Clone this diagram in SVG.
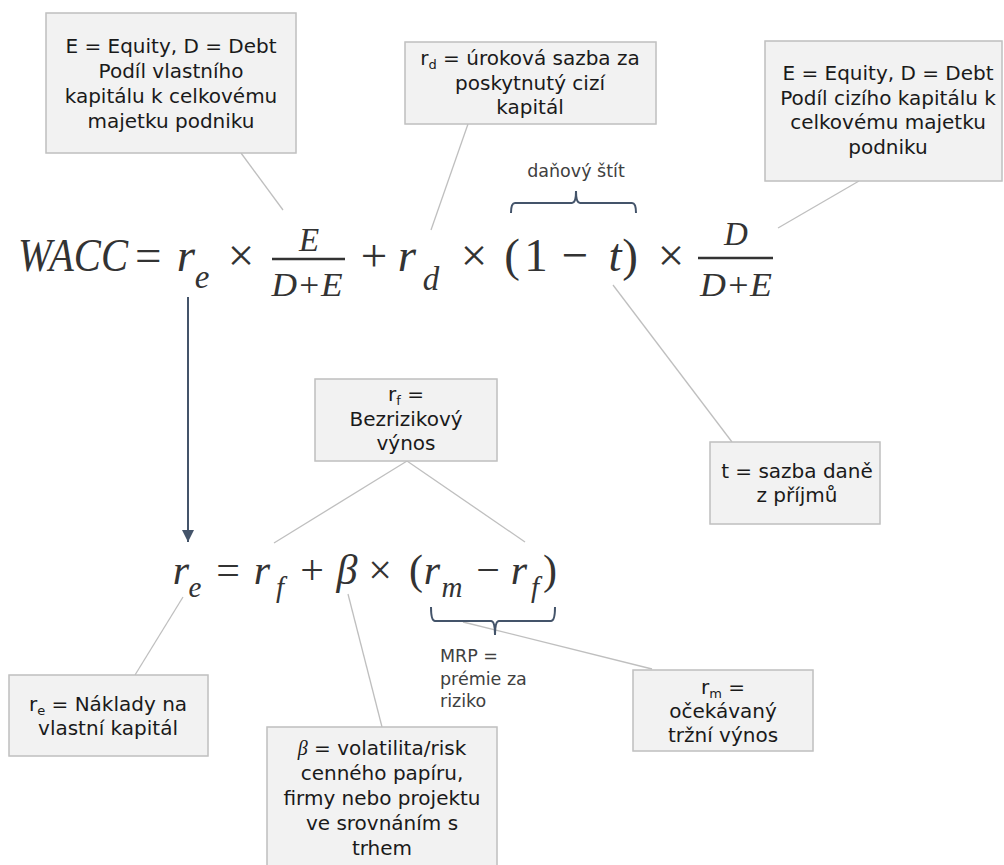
<svg xmlns="http://www.w3.org/2000/svg" width="1004" height="865" viewBox="0 0 1004 865">
  <style>
    .box { fill: #F2F2F2; stroke: #BFBFBF; stroke-width: 1.5; }
    .lbl { font-family: "DejaVu Sans", Verdana, sans-serif; font-size: 20px; fill: #1a1a1a; text-anchor: middle; }
    .sub { font-size: 13px; }
    .note { font-family: "DejaVu Sans", Verdana, sans-serif; font-size: 17.5px; fill: #404040; }
    .m { font-family: "Liberation Serif", "DejaVu Serif", serif; fill: #333333; text-anchor: middle; }
    .mi { font-style: italic; }
    .f1 { font-size: 47px; }
    .f1s { font-size: 33px; }
    .f2 { font-size: 42px; }
    .f2s { font-size: 29px; }
    .bar { stroke: #333333; stroke-width: 2.4; }
    .link { stroke: #BFBFBF; stroke-width: 1.3; fill: none; }
    .brace { stroke: #44546A; stroke-width: 2; fill: none; }
  </style>
  <defs>
    <marker id="arrowhead" viewBox="0 0 10 10" refX="10" refY="5" markerWidth="6" markerHeight="6" markerUnits="strokeWidth" orient="auto">
      <path d="M0,0 L10,5 L0,10 Z" fill="#44546A"/>
    </marker>
  </defs>
  <rect width="1004" height="865" fill="#ffffff"/>

  <!-- connectors -->
  <g id="connectors">
    <line class="link" x1="241" y1="153" x2="283" y2="210"/>
    <line class="link" x1="468" y1="124" x2="431" y2="230"/>
    <line class="link" x1="859" y1="181" x2="778" y2="228"/>
    <line class="link" x1="613" y1="285" x2="732" y2="442"/>
    <line class="link" x1="407" y1="461" x2="274" y2="543"/>
    <line class="link" x1="407" y1="461" x2="525" y2="542"/>
    <line class="link" x1="183" y1="597" x2="135" y2="675"/>
    <line class="link" x1="348" y1="594" x2="382" y2="727"/>
    <line class="link" x1="463" y1="622" x2="652" y2="669"/>
    <line x1="188" y1="297" x2="188" y2="542" stroke="#44546A" stroke-width="2" marker-end="url(#arrowhead)"/>
  </g>

  <!-- WACC formula -->
  <g id="wacc-formula">
    <text class="m f1" x="18" y="271" style="text-anchor:start"><tspan font-style="italic" textLength="110" lengthAdjust="spacingAndGlyphs">WACC</tspan><tspan x="135">=</tspan></text>
    <text class="m mi f1" x="186" y="271">r</text>
    <text class="m mi f1s" x="202" y="288">e</text>
    <text class="m f1" x="241" y="271">×</text>
    <text class="m mi f1s" x="309" y="251">E</text>
    <line class="bar" x1="272" y1="259" x2="345" y2="259"/>
    <text class="m mi f1s" x="307" y="296" textLength="71" lengthAdjust="spacingAndGlyphs">D+E</text>
    <text class="m f1" x="374" y="271">+</text>
    <text class="m mi f1" x="407" y="271">r</text>
    <text class="m mi f1s" x="431" y="290">d</text>
    <text class="m f1" x="474" y="271">×</text>
    <text class="m f1" x="512" y="271">(</text>
    <text class="m f1" x="536" y="271">1</text>
    <text class="m f1" x="575" y="271">−</text>
    <text class="m mi f1" x="615" y="271">t</text>
    <text class="m f1" x="630" y="271">)</text>
    <text class="m f1" x="671" y="271">×</text>
    <text class="m mi f1s" x="736" y="245">D</text>
    <line class="bar" x1="698" y1="258" x2="773" y2="258"/>
    <text class="m mi f1s" x="736" y="296" textLength="72" lengthAdjust="spacingAndGlyphs">D+E</text>
    <path class="brace" d="M511,213 Q511,203 515,203 L572,203 Q576,203 576,191 Q576,203 580,203 L632,203 Q636,203 636,213"/>
    <text class="note" x="576" y="177" text-anchor="middle">daňový štít</text>
  </g>

  <!-- cost of equity formula -->
  <g id="capm-formula">
    <text class="m mi f2" x="181" y="584">r</text>
    <text class="m mi f2s" x="195" y="597">e</text>
    <text class="m f2" x="228" y="584">=</text>
    <text class="m mi f2" x="262" y="584">r</text>
    <text class="m mi f2s" x="280" y="597">f</text>
    <text class="m f2" x="312" y="584">+</text>
    <text class="m mi f2" x="347" y="584">β</text>
    <text class="m f2" x="380" y="584">×</text>
    <text class="m f2" x="416" y="584">(</text>
    <text class="m mi f2" x="432" y="584">r</text>
    <text class="m mi f2s" x="452" y="597">m</text>
    <text class="m f2" x="488" y="584">−</text>
    <text class="m mi f2" x="519" y="584">r</text>
    <text class="m mi f2s" x="535" y="597">f</text>
    <text class="m f2" x="550" y="584">)</text>
    <path class="brace" d="M431,607 Q431,621 435,621 L491,621 Q495,621 495,635 Q495,621 499,621 L551,621 Q555,621 555,607"/>
    <text class="note" x="440" y="662">MRP =</text>
    <text class="note" x="440" y="685">prémie za</text>
    <text class="note" x="440" y="707">riziko</text>
  </g>

  <!-- annotation boxes -->
  <g id="equity-share">
    <rect class="box" x="46" y="13" width="250" height="140"/>
    <text class="lbl" x="171" y="53">E = Equity, D = Debt</text>
    <text class="lbl" x="171" y="78">Podíl vlastního</text>
    <text class="lbl" x="171" y="103">kapitálu k celkovému</text>
    <text class="lbl" x="171" y="128">majetku podniku</text>
  </g>

  <g id="debt-rate">
    <rect class="box" x="405" y="42" width="251" height="82"/>
    <text class="lbl" x="530" y="65">r<tspan class="sub" dy="4">d</tspan><tspan dy="-4"> = úroková sazba za</tspan></text>
    <text class="lbl" x="530" y="90">poskytnutý cizí</text>
    <text class="lbl" x="530" y="114">kapitál</text>
  </g>

  <g id="debt-share">
    <rect class="box" x="765" y="41" width="237" height="140"/>
    <text class="lbl" x="888" y="80">E = Equity, D = Debt</text>
    <text class="lbl" x="888" y="105">Podíl cizího kapitálu k</text>
    <text class="lbl" x="888" y="129">celkovému majetku</text>
    <text class="lbl" x="888" y="154">podniku</text>
  </g>

  <g id="tax-rate">
    <rect class="box" x="710" y="442" width="170" height="82"/>
    <text class="lbl" x="797" y="478">t = sazba daně</text>
    <text class="lbl" x="797" y="502">z příjmů</text>
  </g>

  <g id="risk-free">
    <rect class="box" x="315" y="379" width="182" height="82"/>
    <text class="lbl" x="406" y="401">r<tspan class="sub" dy="4">f</tspan><tspan dy="-4"> =</tspan></text>
    <text class="lbl" x="406" y="426">Bezrizikový</text>
    <text class="lbl" x="406" y="450">výnos</text>
  </g>

  <g id="cost-of-equity">
    <rect class="box" x="9" y="675" width="199" height="81"/>
    <text class="lbl" x="108" y="711">r<tspan class="sub" dy="4">e</tspan><tspan dy="-4"> = Náklady na</tspan></text>
    <text class="lbl" x="108" y="735">vlastní kapitál</text>
  </g>

  <g id="beta">
    <rect class="box" x="267" y="727" width="230" height="145"/>
    <text class="lbl" x="382" y="755"><tspan font-family="Liberation Serif, serif" font-style="italic">β</tspan> = volatilita/risk</text>
    <text class="lbl" x="382" y="780">cenného papíru,</text>
    <text class="lbl" x="382" y="805">firmy nebo projektu</text>
    <text class="lbl" x="382" y="830">ve srovnáním s</text>
    <text class="lbl" x="382" y="855">trhem</text>
  </g>

  <g id="market-return">
    <rect class="box" x="633" y="670" width="180" height="81"/>
    <text class="lbl" x="723" y="694">r<tspan class="sub" dy="4">m</tspan><tspan dy="-4"> =</tspan></text>
    <text class="lbl" x="723" y="718">očekávaný</text>
    <text class="lbl" x="723" y="742">tržní výnos</text>
  </g>
</svg>
